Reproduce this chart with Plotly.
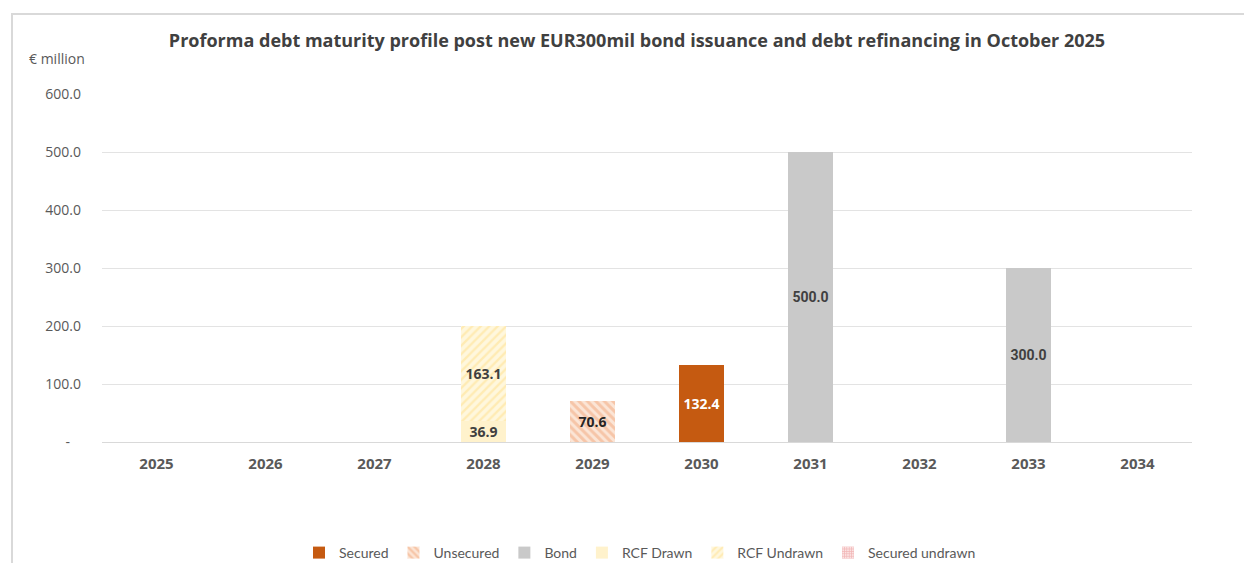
import plotly.graph_objects as go

years = ["2025", "2026", "2027", "2028", "2029", "2030", "2031", "2032", "2033", "2034"]
secured = [None, None, None, None, None, 132.4, None, None, None, None]
unsecured = [None, None, None, None, 70.6, None, None, None, None, None]
bond = [None, None, None, None, None, None, 500.0, None, 300.0, None]
rcf_drawn = [None, None, None, 36.9, None, None, None, None, None, None]
rcf_undrawn = [None, None, None, 163.1, None, None, None, None, None, None]
secured_undrawn = [None, None, None, None, None, None, None, None, None, None]

ytick_vals = [0, 100, 200, 300, 400, 500, 600]
ytick_text = ["-\u00a0\u00a0\u00a0", "100.0", "200.0", "300.0", "400.0", "500.0", "600.0"]

# page body has an 8px margin; work in page coordinates and convert
OFF = 8
W, H = 1252 - 2 * OFF, 571 - 2 * OFF
PLOT_L, PLOT_R, PLOT_T, PLOT_B = 102, 1192, 94, 442  # page px
PL = PLOT_L - OFF
PT = PLOT_T - OFF
PR = W - (PLOT_R - OFF)
PB = H - (PLOT_B - OFF)
pw, ph = PLOT_R - PLOT_L, PLOT_B - PLOT_T


def px(x):
    return (x - PLOT_L) / pw


def py(y):
    return (PLOT_B - y) / ph


def fmt(vals):
    return [None if v is None else f"{v:.1f}" for v in vals]


fig = go.Figure()
fig.add_trace(go.Bar(
    name="Secured", x=years, y=secured, text=fmt(secured),
    marker=dict(color="#C55A11", line=dict(width=0)),
    textfont=dict(family="Open Sans", size=14, color="white", weight="bold"),
))
fig.add_trace(go.Bar(
    name="Unsecured", x=years, y=unsecured, text=fmt(unsecured),
    marker=dict(color="white", line=dict(width=0),
                pattern=dict(shape="\\", fgcolor="#F2A679", bgcolor="#FBE5D6", size=6, solidity=0.5)),
    textfont=dict(family="Open Sans", size=14, color="#262626", weight="bold"),
))
fig.add_trace(go.Bar(
    name="Bond", x=years, y=bond, text=fmt(bond),
    marker=dict(color="#C9C9C9", line=dict(width=0)),
    textfont=dict(family="Roboto", size=14, color="#404040", weight="bold"),
))
fig.add_trace(go.Bar(
    name="RCF Drawn", x=years, y=rcf_drawn, text=fmt(rcf_drawn),
    marker=dict(color="#FFF2CC", line=dict(width=0)),
    textfont=dict(family="Open Sans", size=14, color="#404040", weight="bold"),
))
fig.add_trace(go.Bar(
    name="RCF Undrawn", x=years, y=rcf_undrawn, text=fmt(rcf_undrawn),
    marker=dict(color="white", line=dict(width=0),
                pattern=dict(shape="/", fgcolor="#FFE08A", bgcolor="#FFF7DD", size=6, solidity=0.4)),
    textfont=dict(family="Open Sans", size=14, color="#404040", weight="bold"),
))
fig.add_trace(go.Bar(
    name="Secured undrawn", x=years, y=secured_undrawn,
    marker=dict(color="white", line=dict(width=0),
                pattern=dict(shape="+", fgcolor="#E88A8A", bgcolor="#FBE3E3", size=3, solidity=0.5)),
))

fig.update_traces(textposition="inside", insidetextanchor="middle", constraintext="none",
                  hoverinfo="skip")

fig.update_layout(
    width=W, height=H,
    margin=dict(l=PL, r=PR, t=PT, b=PB, autoexpand=False),
    paper_bgcolor="white", plot_bgcolor="white",
    barmode="stack", bargap=0.59,
    title=dict(text="<b>Proforma debt maturity profile post new EUR300mil bond issuance and debt refinancing in October 2025</b>",
               x=(637 - OFF) / W, xanchor="center", y=1 - (41 - OFF) / H, yanchor="middle",
               font=dict(family="Open Sans", size=18, color="#404040")),
    font=dict(family="Open Sans", color="#595959"),
    xaxis=dict(type="category", categoryorder="array", categoryarray=years,
               showgrid=False, showline=False, ticks="",
               tickfont=dict(family="Open Sans", size=15, color="#595959", weight="bold"),
               ticklabelstandoff=11),
    yaxis=dict(range=[0, 600], tickvals=ytick_vals, ticktext=ytick_text,
               showgrid=True, gridcolor="#E3E3E3", gridwidth=1, zeroline=True,
               zerolinecolor="#D9D9D9", zerolinewidth=1, showline=False, ticks="",
               tickfont=dict(family="Open Sans", size=14, color="#595959"),
               ticklabelstandoff=20),
    legend=dict(orientation="h", x=px(640), xanchor="center", y=py(553), yanchor="middle",
                font=dict(family="Lato", size=14, color="#595959"),
                itemwidth=30, tracegroupgap=0, traceorder="normal"),
    showlegend=True,
    annotations=[dict(text="€ million", x=px(57), y=py(58), xref="paper", yref="paper",
                      showarrow=False, xanchor="center", yanchor="middle",
                      font=dict(family="Open Sans", size=14, color="#595959"))],
    shapes=[dict(type="rect", xref="paper", yref="paper",
                 x0=px(12), x1=px(1270), y0=py(14), y1=py(600),
                 line=dict(color="#D9D9D9", width=2), fillcolor="rgba(0,0,0,0)", layer="below")],
)

fig.write_html("out.html")
